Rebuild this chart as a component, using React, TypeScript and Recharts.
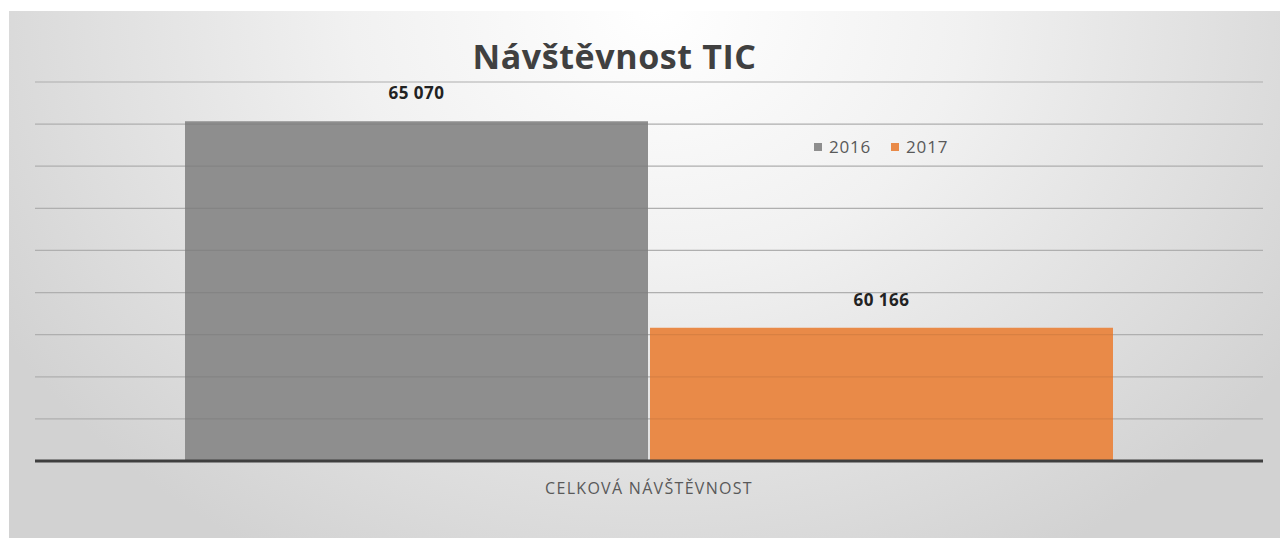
import React from "react";
import {
  BarChart,
  Bar,
  XAxis,
  YAxis,
  CartesianGrid,
  Legend,
  LabelList,
  ReferenceLine,
} from "recharts";

const categories = ["CELKOVÁ NÁVŠTĚVNOST"];
const values2016 = [65070];
const values2017 = [60166];
const yTicks = [57000, 58000, 59000, 60000, 61000, 62000, 63000, 64000, 65000, 66000];

const data = categories.map((name, i) => ({
  name,
  y2016: values2016[i],
  y2017: values2017[i],
}));

const fmt = (v: number) =>
  String(v).replace(/\B(?=(\d{3})+(?!\d))/g, " ");

const FONT = "'Open Sans', sans-serif";
const GRAY = "#8e8e8e";
const ORANGE = "#e98a48";

function LegendBox() {
  const items = [
    { label: "2016", color: GRAY },
    { label: "2017", color: ORANGE },
  ];
  return (
    <div style={{ display: "flex", alignItems: "center", fontFamily: FONT, fontSize: 17, color: "#595959" }}>
      {items.map((it) => (
        <div key={it.label} style={{ display: "flex", alignItems: "center", marginRight: 20 }}>
          <span style={{ width: 8, height: 8, background: it.color, marginRight: 7, display: "inline-block" }} />
          <span style={{ letterSpacing: 0.8 }}>{it.label}</span>
        </div>
      ))}
    </div>
  );
}

export default function App() {
  return (
    <>
      <style>{`body{margin:0;overflow:hidden}`}</style>
      <div
        style={{
          position: "absolute",
          left: 9,
          top: 11,
          width: 1271,
          height: 527,
          background:
            "radial-gradient(ellipse 60% 120% at 51% 0%, #ffffff 0%, #f1f1f1 40%, #d2d2d2 100%)",
        }}
      >
        <div
          style={{
            position: "absolute",
            left: 463,
            top: 25,
            width: 285,
            textAlign: "center",
            fontFamily: FONT,
            fontWeight: 700,
            fontSize: 34,
            letterSpacing: 0.6,
            color: "#404040",
            lineHeight: "40px",
            whiteSpace: "nowrap",
          }}
        >
          Návštěvnost TIC
        </div>
        <BarChart
          width={1271}
          height={527}
          data={data}
          margin={{ top: 71, right: 17, left: 26, bottom: 37 }}
          barCategoryGap={150}
          barGap={2}
        >
          <CartesianGrid vertical={false} stroke="#bdbdbd" strokeWidth={1.2} />
          <YAxis hide domain={[57000, 66000]} ticks={yTicks} allowDataOverflow />
          <XAxis
            dataKey="name"
            height={40}
            axisLine={{ stroke: "#3f3f3f", strokeWidth: 3 }}
            tickLine={false}
            tickSize={0}
            tickMargin={22}
            tick={{ fontFamily: FONT, fontSize: 16, fill: "#595959", letterSpacing: 1.3 }}
          />
          <Legend
            layout="horizontal"
            verticalAlign="middle"
            align="center"
            content={() => <LegendBox />}
            wrapperStyle={{ left: 805, top: 124, width: 220 }}
          />
          <Bar dataKey="y2016" name="2016" fill={GRAY} isAnimationActive={false}>
            <LabelList
              dataKey="y2016"
              position="top"
              offset={22}
              formatter={(v: number) => fmt(v)}
              style={{ fontFamily: FONT, fontWeight: 700, fontSize: 17, fill: "#222", letterSpacing: 0.5 }}
            />
          </Bar>
          <Bar dataKey="y2017" name="2017" fill={ORANGE} isAnimationActive={false}>
            <LabelList
              dataKey="y2017"
              position="top"
              offset={22}
              formatter={(v: number) => fmt(v)}
              style={{ fontFamily: FONT, fontWeight: 700, fontSize: 17, fill: "#222", letterSpacing: 0.5 }}
            />
          </Bar>
          {yTicks.slice(1).map((t) => (
            <ReferenceLine key={t} y={t} stroke="#000" strokeOpacity={0.07} strokeWidth={1.2} />
          ))}
        </BarChart>
      </div>
    </>
  );
}
